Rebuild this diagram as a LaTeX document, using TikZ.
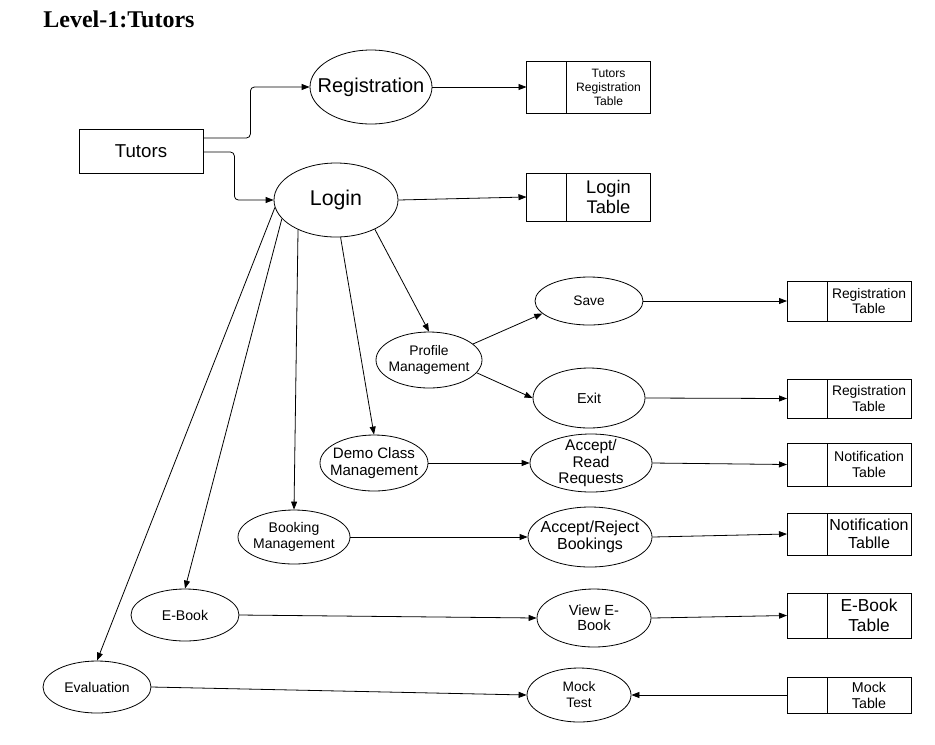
\documentclass[tikz,border=0pt]{standalone}
\usepackage{fontspec}
\setmainfont{Liberation Sans}
\newfontfamily\titlefont{Liberation Serif}
\usetikzlibrary{shapes.geometric,positioning,arrows.meta}
\newcommand{\fsz}[2]{\fontsize{#1}{#2}\selectfont}

\tikzset{
  proc/.style={ellipse, draw, inner sep=-15pt, align=center},
  ext/.style={rectangle, draw, inner sep=0pt, minimum width=93pt, minimum height=33pt},
  store/.style={rectangle, draw, inner sep=0pt, outer sep=0pt, minimum width=63pt, align=center},
  storeid/.style={rectangle, draw, inner sep=0pt, outer sep=0pt, minimum width=30pt},
  flow/.style={-{Triangle[length=6pt,width=4.5pt]}},
}

\begin{document}
\begin{tikzpicture}[x=0.75pt, y=-0.75pt, line width=0.6pt]
  \useasboundingbox (0,0) rectangle (935,744);

  \node[anchor=base west, inner sep=0pt, font=\titlefont\bfseries\fsz{18}{21}] (title) at (43,27) {Level-1:Tutors};

  % external entity and first processes
  \node[ext, font=\fsz{14}{17}] (tutors) at (141,151) {Tutors};
  \node[proc, minimum width=91.5pt, minimum height=55.5pt, font=\fsz{15}{18}] (reg) at (371,87) {Registration};
  \node[proc, minimum width=93pt, minimum height=55.5pt, font=\fsz{16}{19}] (login) at (336,200) {Login};

  \node[store, minimum height=39pt, font=\fsz{9.1}{10.5}] (trt) at (608.5,87) {Tutors\\Registration\\Table};
  \node[storeid, minimum height=39pt, left=0pt of trt] (trtid) {};
  \node[store, minimum height=36pt, font=\fsz{13.7}{15}] (lt) at (608.5,197) {Login\\Table};
  \node[storeid, minimum height=36pt, left=0pt of lt] (ltid) {};

  % sub processes
  \node[proc, minimum width=79.5pt, minimum height=42pt, font=\fsz{10.4}{11.5}] (profile) at (429,360) {Profile\\Management};
  \node[proc, minimum width=81pt, minimum height=36pt, font=\fsz{10.3}{12}] (save) at (589,301) {Save};
  \node[proc, minimum width=84pt, minimum height=45pt, font=\fsz{10.8}{12}] (exit) at (589,398) {Exit};
  \node[proc, minimum width=81pt, minimum height=42pt, font=\fsz{11.3}{13}] (demo) at (374,463) {Demo Class\\Management};
  \node[proc, minimum width=91.5pt, minimum height=43.5pt, font=\fsz{11.6}{12.5}] (acceptread) at (591,463) {Accept/\\Read\\Requests};
  \node[proc, minimum width=84pt, minimum height=40.5pt, font=\fsz{10.5}{12}] (booking) at (294,537) {Booking\\Management};
  \node[proc, minimum width=93pt, minimum height=45pt, font=\fsz{12}{12.75}] (acceptrej) at (590,537) {Accept/Reject\\Bookings};
  \node[proc, minimum width=81pt, minimum height=39pt, font=\fsz{10.6}{12}] (ebook) at (185,615) {E-Book};
  \node[proc, minimum width=85.5pt, minimum height=43.5pt, font=\fsz{11}{11.25}] (viewebook) at (594,618) {View E-\\Book};
  \node[proc, minimum width=81pt, minimum height=39pt, font=\fsz{10.5}{12}] (eval) at (97,687) {Evaluation};
  \node[proc, minimum width=78pt, minimum height=40.5pt, font=\fsz{10.3}{12}] (mock) at (579,695) {Mock\\Test};

  % data stores on the right
  \node[store, minimum height=30pt, font=\fsz{10.4}{11.75}] (rt1) at (869,301) {Registration\\Table};
  \node[storeid, minimum height=30pt, left=0pt of rt1] (rt1id) {};
  \node[store, minimum height=29.25pt, font=\fsz{10.4}{11.75}] (rt2) at (869,398.5) {Registration\\Table};
  \node[storeid, minimum height=29.25pt, left=0pt of rt2] (rt2id) {};
  \node[store, minimum height=32.25pt, font=\fsz{10.6}{12.5}] (nt1) at (869,464.5) {Notification\\Table};
  \node[storeid, minimum height=32.25pt, left=0pt of nt1] (nt1id) {};
  \node[store, minimum height=31.5pt, font=\fsz{12}{13.5}] (nt2) at (869,534) {Notification\\Tablle};
  \node[storeid, minimum height=31.5pt, left=0pt of nt2] (nt2id) {};
  \node[store, minimum height=33.75pt, font=\fsz{13}{15}] (ebt) at (869,615.5) {E-Book\\Table};
  \node[storeid, minimum height=33.75pt, left=0pt of ebt] (ebtid) {};
  \node[store, minimum height=27pt, font=\fsz{10.7}{12}] (mt) at (869,695) {Mock\\Table};
  \node[storeid, minimum height=27pt, left=0pt of mt] (mtid) {};

  % flows
  \draw[flow, rounded corners=3pt] ([yshift=9.75pt]tutors.east) -- ++(47,0) |- (reg.west);
  \draw[flow, rounded corners=3pt] ([yshift=-0.75pt]tutors.east) -- ++(31,0) |- (login.west);
  \draw[flow] (reg.east) -- (trtid.west);
  \draw[flow] (login.east) -- (ltid.west);

  \draw[flow] (login.323) -- (profile.north);
  \draw[flow] (login.277) -- (demo.north);
  \draw[flow] (login.218) -- (booking.north);
  \draw[flow] (login.199) -- (ebook.north);
  \draw[flow] (login.187) -- (eval.north);

  \draw[flow] (profile.20) -- (save.195);
  \draw[flow] (profile.345) -- (exit.west);
  \draw[flow] (save.east) -- (rt1id.west);
  \draw[flow] (exit.east) -- (rt2id.west);
  \draw[flow] (demo.east) -- (acceptread.west);
  \draw[flow] (acceptread.east) -- (nt1id.west);
  \draw[flow] (booking.east) -- (acceptrej.west);
  \draw[flow] (acceptrej.east) -- (nt2id.west);
  \draw[flow] (ebook.east) -- (viewebook.west);
  \draw[flow] (viewebook.east) -- (ebtid.west);
  \draw[flow] (eval.east) -- (mock.west);
  \draw[flow] (mtid.west) -- (mock.east);
\end{tikzpicture}
\end{document}
